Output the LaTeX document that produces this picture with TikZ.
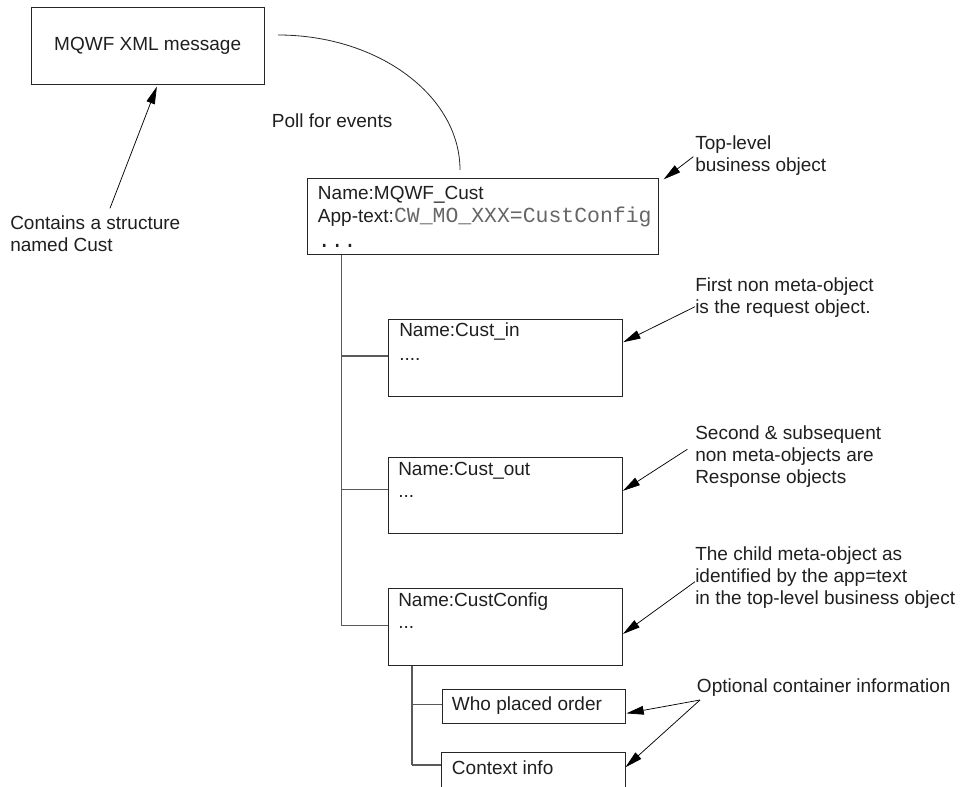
\documentclass[tikz,border=0pt]{standalone}
\usepackage{fontspec}
\setmainfont{Liberation Sans}
\setmonofont{Liberation Mono}
\usetikzlibrary{arrows.meta}
\newcommand\diagfont{\fontsize{14.25pt}{16.7pt}\selectfont}
\newcommand\monotext[1]{{\ttfamily\fontsize{16.1pt}{16.7pt}\selectfont\color{black!60}#1}}
\newcommand\monodots{{\ttfamily\fontsize{16.1pt}{16.7pt}\selectfont ...}}
\begin{document}
\begin{tikzpicture}[x=0.75pt,y=-0.75pt,
  every node/.style={font=\diagfont, text=black!88},
  objbox/.style={draw=black!85, line width=0.7pt, inner sep=0pt, anchor=north west},
  lbl/.style={inner sep=0pt, anchor=base west},
  tree/.style={draw=black!65, line width=1pt},
  callout/.style={draw=black, line width=0.55pt, -{Triangle[length=13pt,width=6.5pt]}},
]
\path[use as bounding box] (0,0) rectangle (966,787);

% boxes
\node[objbox, minimum width=174.75pt, minimum height=57.3pt] (mqwf) at (30.7,7.3) {MQWF XML message};
\node[objbox, minimum width=263.7pt, minimum height=57pt] (top) at (306.7,178) {};
\node[objbox, minimum width=175.5pt, minimum height=57.3pt] (cin) at (388.3,319.3) {};
\node[objbox, minimum width=175.5pt, minimum height=57.3pt] (cout) at (388,456.7) {};
\node[objbox, minimum width=175.5pt, minimum height=57.3pt] (cconf) at (388,588.3) {};
\node[objbox, minimum width=137.5pt, minimum height=25.7pt] (who) at (441.6,689) {};
\node[objbox, minimum width=137.5pt, minimum height=25.7pt] (ctx) at (441.2,752.3) {};

% box texts
\node[lbl] (toptxt) at (317.7,200) {\begin{tabular}[t]{@{}l@{}}Name:MQWF\_Cust\\App-text:\monotext{CW\_MO\_XXX=CustConfig}\\[2pt]\monodots\end{tabular}};
\node[lbl] (cintxt) at (399,337) {\begin{tabular}[t]{@{}l@{}}Name:Cust\_in\\[1pt]....\end{tabular}};
\node[lbl] (couttxt) at (398,475) {\begin{tabular}[t]{@{}l@{}}Name:Cust\_out\\...\end{tabular}};
\node[lbl] (cconftxt) at (398,606.7) {\begin{tabular}[t]{@{}l@{}}Name:CustConfig\\...\end{tabular}};
\node[lbl] (whotxt) at (451.7,710.7) {Who placed order};
\node[lbl] (ctxtxt) at (451.7,774) {Context info};

% free labels
\node[lbl] (poll) at (271.7,127.3) {Poll for events};
\node[lbl] (contains) at (10,229.3) {\begin{tabular}[t]{@{}l@{}}Contains a structure\\named Cust\end{tabular}};
\node[lbl] (toplvl) at (695,149.4) {\begin{tabular}[t]{@{}l@{}}Top-level\\business object\end{tabular}};
\node[lbl] (first) at (695,291.7) {\begin{tabular}[t]{@{}l@{}}First non meta-object\\is the request object.\end{tabular}};
\node[lbl] (second) at (695,439) {\begin{tabular}[t]{@{}l@{}}Second \& subsequent\\non meta-objects are\\Response objects\end{tabular}};
\node[lbl] (child) at (695,560) {\begin{tabular}[t]{@{}l@{}}The child meta-object as\\identified by the app=text\\in the top-level business object\end{tabular}};
\node[lbl] (optional) at (696.7,692.7) {Optional container information};

% poll curve
\coordinate (p0) at (278,35);
\coordinate (p1) at (460,170);
\draw[black!85, line width=0.6pt] (p0) .. controls (378,35) and (460,95.5) .. (p1);

% tree connectors
\coordinate (t0) at ([xshift=26.25pt]top.south west);
\coordinate (b1) at ([yshift=1.35pt]cin.west);
\coordinate (b2) at ([yshift=4.3pt]cout.west);
\coordinate (b3) at ([yshift=1pt]cconf.west);
\draw[tree] (t0) -- (t0 |- b3);
\draw[tree] (t0 |- b1) -- (b1);
\draw[tree] (t0 |- b2) -- (b2);
\draw[tree] (t0 |- b3) -- (b3);

\coordinate (s0) at ([xshift=18pt]cconf.south west);
\coordinate (c1) at ([yshift=1.4pt]who.west);
\coordinate (c2) at ([yshift=3.75pt]ctx.west);
\draw[tree] (s0) -- (s0 |- c2);
\draw[tree] (s0 |- c1) -- (c1);
\draw[tree] (s0 |- c2) -- (c2);

% callout arrows
\coordinate (a0) at (110,208.3);
\coordinate (a1) at (693.3,156.7);
\coordinate (a2) at (695,306.7);
\coordinate (a3) at (687.3,449.3);
\coordinate (a4) at (695,581.7);
\coordinate (a5) at (700,700);
\draw[callout] (a0) -- ([xshift=6.9pt,yshift=-1.5pt]mqwf.south);
\draw[callout] (a1) -- ([xshift=3.3pt,yshift=-1pt]top.north east);
\draw[callout] (a2) -- ([yshift=11.85pt]cin.east);
\draw[callout] (a3) -- ([yshift=3.4pt]cout.east);
\draw[callout] (a4) -- ([yshift=-5.25pt]cconf.east);
\draw[callout] (a5) -- ([xshift=0.4pt,yshift=-5.1pt]who.east);
\draw[callout] (a5) -- ([yshift=2pt]ctx.east);
\end{tikzpicture}
\end{document}
